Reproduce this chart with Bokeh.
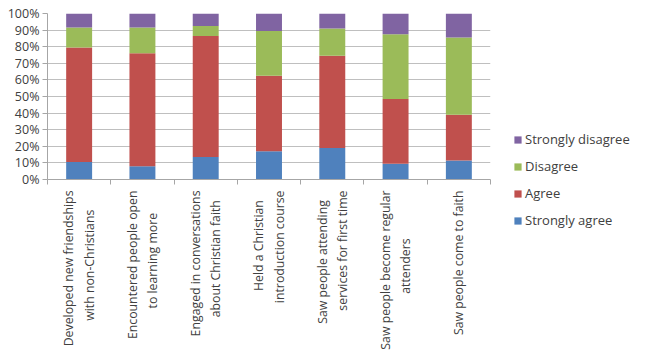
from bokeh.plotting import figure
from bokeh.models import ColumnDataSource, FixedTicker, Legend, LegendItem, Range1d, NumeralTickFormatter
from bokeh.embed import file_html
from bokeh.resources import INLINE

categories = [
    "Developed new friendships\nwith non-Christians",
    "Encountered people open\nto learning more",
    "Engaged in conversations\nabout Christian faith",
    "Held a Christian\nintroduction course",
    "Saw people attending\nservices for first time",
    "Saw people become regular\nattenders",
    "Saw people come to faith",
]
strongly_agree = [10.5, 8, 13.5, 17, 19, 9.5, 11.5]
agree = [69, 68, 73, 45.5, 55.5, 39, 27.5]
disagree = [12, 15.5, 6, 27, 16.5, 39, 46.5]
strongly_disagree = [8.5, 8.5, 7.5, 10.5, 9, 12.5, 14.5]
series_names = ["Strongly agree", "Agree", "Disagree", "Strongly disagree"]
colors = ["#4F81BD", "#C0504D", "#9BBB59", "#8064A2"]
y_ticks = [0, 10, 20, 30, 40, 50, 60, 70, 80, 90, 100]


def centered(label):
    # lines are drawn right-aligned; pad shorter lines so they look centred
    lines = label.split("\n")
    n = max(len(l) for l in lines)
    return "\n".join(l + "\u00a0" * round((n - len(l)) * 0.95) for l in lines)


xs = [i + 0.5 for i in range(len(categories))]
src = ColumnDataSource(dict(x=xs, sa=strongly_agree, a=agree, d=disagree, sd=strongly_disagree))

p = figure(frame_width=443, frame_height=166, output_backend="svg", toolbar_location=None,
           x_range=Range1d(0, len(categories)), y_range=Range1d(0, 100),
           min_border_left=47, min_border_right=10, min_border_top=13, min_border_bottom=10)
p.outline_line_color = None
p.background_fill_color = "white"

rs = p.vbar_stack(["sa", "a", "d", "sd"], x="x", width=0.41, color=colors, source=src, line_color=None)

# axes
p.xaxis.ticker = FixedTicker(ticks=xs, minor_ticks=list(range(len(categories) + 1)))
p.xaxis.major_label_overrides = {x: centered(c) for x, c in zip(xs, categories)}
p.xaxis.major_label_orientation = 1.5707963
p.xaxis.major_tick_out = 0
p.xaxis.major_tick_in = 0
p.xaxis.minor_tick_out = 5
p.xaxis.minor_tick_in = 0
p.xaxis.minor_tick_line_color = "#A6A6A6"
p.xaxis.axis_line_color = "#A6A6A6"
p.xaxis.major_label_text_font = "Open Sans"
p.xaxis.major_label_text_font_size = "12.3px"
p.xaxis.major_label_text_color = "#404040"
p.xaxis.major_label_standoff = 6

p.yaxis.ticker = FixedTicker(ticks=y_ticks, minor_ticks=[])
p.yaxis.formatter = NumeralTickFormatter(format="0")
p.yaxis.major_label_overrides = {t: f"{t}%" for t in y_ticks}
p.yaxis.axis_line_color = "#A6A6A6"
p.yaxis.major_tick_line_color = "#A6A6A6"
p.yaxis.major_tick_out = 5
p.yaxis.major_tick_in = 0
p.yaxis.major_label_text_font = "Open Sans"
p.yaxis.major_label_text_font_size = "12.5px"
p.yaxis.major_label_text_color = "#404040"
p.yaxis.major_label_standoff = 3

p.xgrid.grid_line_color = None
p.ygrid.ticker = FixedTicker(ticks=y_ticks)
p.ygrid.grid_line_color = "#BFBFBF"

items = [LegendItem(label=n, renderers=[r]) for n, r in zip(series_names, rs)][::-1]
legend = Legend(items=items, location=(23, -50), orientation="vertical",
                background_fill_alpha=0, border_line_color=None,
                label_text_font="Open Sans", label_text_font_size="13px", label_text_color="#404040",
                glyph_width=9, glyph_height=9, spacing=9, label_standoff=3, padding=0, margin=0)
p.add_layout(legend, "right")

open("out.html", "w").write(file_html(p, INLINE))
